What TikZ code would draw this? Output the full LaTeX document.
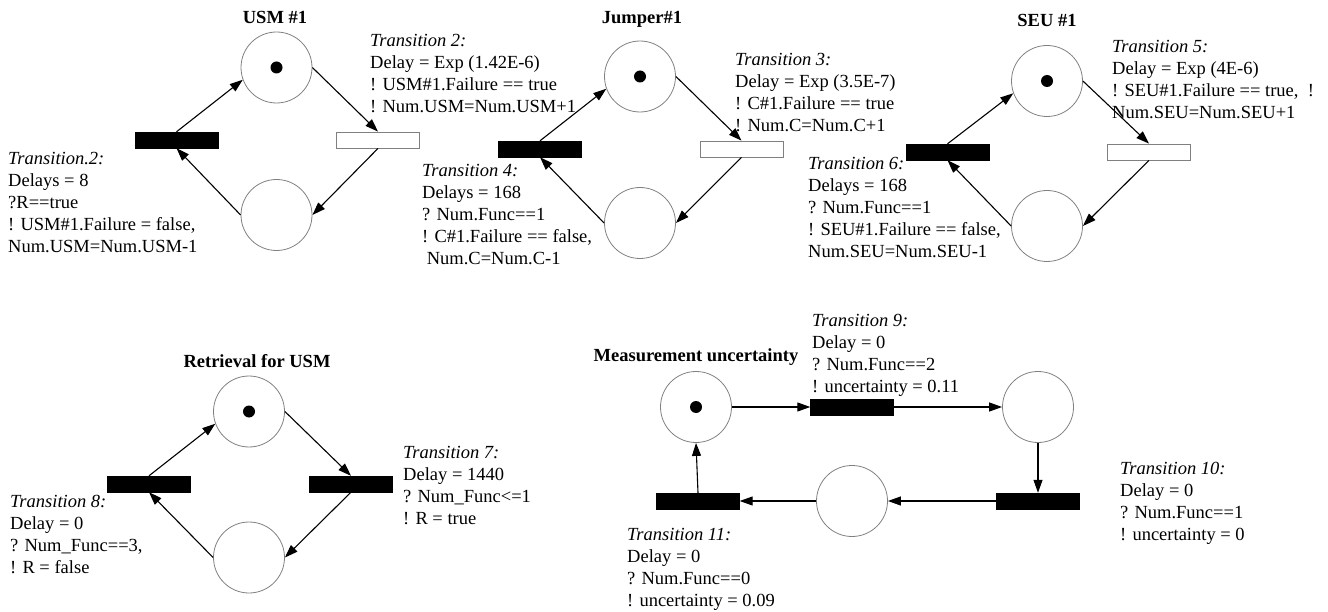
\documentclass[tikz,border=0pt]{standalone}
\usepackage{fontspec}
\setmainfont{Liberation Serif}
\usetikzlibrary{arrows.meta}

\begin{document}
\begin{tikzpicture}[x=1pt,y=-1pt,
  place/.style={circle,draw=gray,line width=0.8pt,minimum size=71pt,inner sep=0pt},
  token/.style={circle,fill=black,minimum size=12pt,inner sep=0pt},
  trans/.style={rectangle,draw=black,fill=black,minimum width=83pt,minimum height=16pt,inner sep=0pt},
  opentrans/.style={trans,draw=gray,fill=white,line width=0.8pt},
  lbl/.style={anchor=base west,align=left,inner sep=0pt,font=\fontsize{18.5}{22}\selectfont},
  ttl/.style={anchor=base,inner sep=0pt,font=\fontsize{18.5}{22}\selectfont\bfseries},
  arc/.style={-{Triangle[length=13pt,width=9pt]},line width=1.1pt}]
  \useasboundingbox (0,0) rectangle (1328,612);
  % text blocks are placed by the baseline of their last line

  % USM #1
  \node[ttl] (usm-title) at (275,23.5) {USM \#1};
  \node[place] (usm-up) at (276.5,67.5) {};
  \node[token] (usm-tok) at (usm-up) {};
  \node[trans] (usm-rep) at (176.5,140) {};
  \node[opentrans] (usm-fail) at (378,140) {};
  \node[place] (usm-down) at (276.5,215) {};
  \node[lbl] (usm-fail-txt) at (370,113) {\textit{Transition 2:}\\Delay = Exp (1.42E-6)\\! USM\#1.Failure == true\\! Num.USM=Num.USM+1};
  \node[lbl] (usm-rep-txt) at (8,253) {\textit{Transition.2:}\\Delays = 8\\?R==true\\! USM\#1.Failure = false,\\Num.USM=Num.USM-1};
  \path[arc]
    (usm-rep.north) edge (usm-up.200)
    (usm-up.east) edge (usm-fail.north)
    (usm-fail.south) edge (usm-down.east)
    (usm-down.west) edge (usm-rep.south);

  % Jumper#1
  \node[ttl] (jmp-title) at (642,23.5) {Jumper\#1};
  \node[place] (jmp-up) at (640,76.5) {};
  \node[token] (jmp-tok) at (jmp-up) {};
  \node[trans] (jmp-rep) at (540,149) {};
  \node[opentrans] (jmp-fail) at (741.5,149) {};
  \node[place] (jmp-down) at (640,223) {};
  \node[lbl] (jmp-fail-txt) at (735,132) {\textit{Transition 3:}\\Delay = Exp (3.5E-7)\\! C\#1.Failure == true\\! Num.C=Num.C+1};
  \node[lbl] (jmp-rep-txt) at (422,265) {\textit{Transition 4:}\\Delays = 168\\? Num.Func==1\\! C\#1.Failure == false,\\\ Num.C=Num.C-1};
  \path[arc]
    (jmp-rep.north) edge (jmp-up.200)
    (jmp-up.east) edge (jmp-fail.north)
    (jmp-fail.south) edge (jmp-down.east)
    (jmp-down.west) edge (jmp-rep.south);

  % SEU #1
  \node[ttl] (seu-title) at (1047,26.5) {SEU \#1};
  \node[place] (seu-up) at (1047,81) {};
  \node[token] (seu-tok) at (seu-up) {};
  \node[trans] (seu-rep) at (947.5,152) {};
  \node[opentrans] (seu-fail) at (1149,152) {};
  \node[place] (seu-down) at (1047,226) {};
  \node[lbl] (seu-fail-txt) at (1112,119) {\textit{Transition 5:}\\Delay = Exp (4E-6)\\! SEU\#1.Failure == true,\ \ !\\Num.SEU=Num.SEU+1};
  \node[lbl] (seu-rep-txt) at (808,258) {\textit{Transition 6:}\\Delays = 168\\? Num.Func==1\\! SEU\#1.Failure == false,\\Num.SEU=Num.SEU-1};
  \path[arc]
    (seu-rep.north) edge (seu-up.200)
    (seu-up.east) edge (seu-fail.north)
    (seu-fail.south) edge (seu-down.east)
    (seu-down.west) edge (seu-rep.south);

  % Retrieval for USM
  \node[ttl] (ret-title) at (257,367) {Retrieval for USM};
  \node[place] (ret-up) at (249,411.5) {};
  \node[token] (ret-tok) at (ret-up) {};
  \node[trans] (ret-t8) at (149,484) {};
  \node[trans] (ret-t7) at (351,484) {};
  \node[place] (ret-down) at (249,557.5) {};
  \node[lbl] (ret-t7-txt) at (403,524) {\textit{Transition 7:}\\Delay = 1440\\? Num\_Func<=1\\! R = true};
  \node[lbl] (ret-t8-txt) at (10,573) {\textit{Transition 8:}\\Delay = 0\\? Num\_Func==3,\\! R = false};
  \path[arc]
    (ret-t8.north) edge (ret-up.200)
    (ret-up.east) edge (ret-t7.north)
    (ret-t7.south) edge (ret-down.east)
    (ret-down.west) edge (ret-t8.south);

  % Measurement uncertainty
  \node[ttl] (mu-title) at (696,361) {Measurement uncertainty};
  \node[place] (mu-p1) at (696,407) {};
  \node[token] (mu-tok) at (mu-p1) {};
  \node[trans] (mu-t9) at (852,407) {};
  \node[place] (mu-p2) at (1038,407) {};
  \node[trans] (mu-t10) at (1038,501) {};
  \node[place] (mu-p3) at (852,501) {};
  \node[trans] (mu-t11) at (698,501) {};
  \node[lbl] (mu-t9-txt) at (812,392) {\textit{Transition 9:}\\Delay = 0\\? Num.Func==2\\! uncertainty = 0.11};
  \node[lbl] (mu-t10-txt) at (1120,540) {\textit{Transition 10:}\\Delay = 0\\? Num.Func==1\\! uncertainty = 0};
  \node[lbl] (mu-t11-txt) at (627,606) {\textit{Transition 11:}\\Delay = 0\\? Num.Func==0\\! uncertainty = 0.09};
  \path[arc]
    (mu-p1.east) edge (mu-t9.west)
    (mu-t9.east) edge (mu-p2.west)
    (mu-p2.south) edge (mu-t10.north)
    (mu-t10.west) edge (mu-p3.east)
    (mu-p3.west) edge (mu-t11.east)
    (mu-t11.north) edge (mu-p1.south);
\end{tikzpicture}
\end{document}
